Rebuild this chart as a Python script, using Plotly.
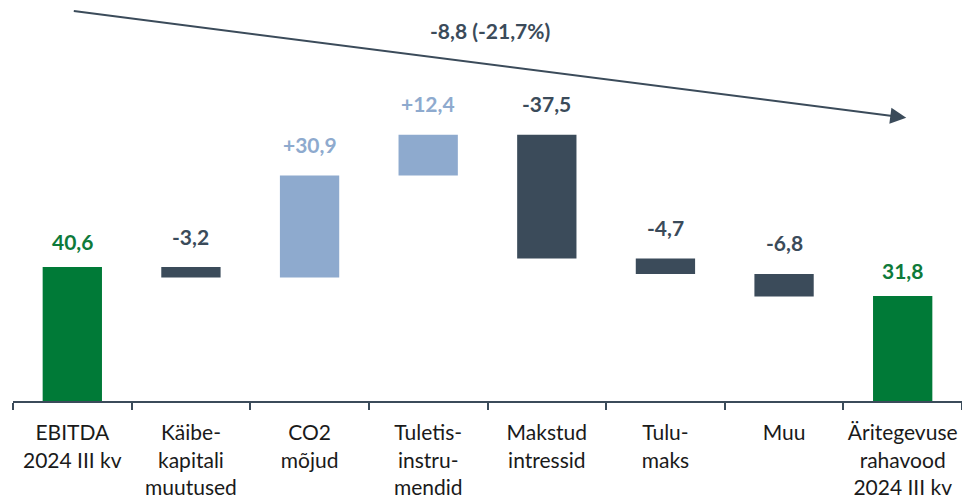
import plotly.graph_objects as go

# -------------------------
# DATA
# -------------------------
categories = [
    "EBITDA<br>2024 III kv",
    "Käibe-<br>kapitali<br>muutused",
    "CO2<br>mõjud",
    "Tuletis-<br>instru-<br>mendid",
    "Makstud<br>intressid",
    "Tulu-<br>maks",
    "Muu",
    "Äritegevuse<br>rahavood<br>2024 III kv",
]
values = [40.6, -3.2, 30.9, 12.4, -37.5, -4.7, -6.8, 31.8]
measures = ["total", "relative", "relative", "relative",
            "relative", "relative", "relative", "total"]

GREEN = "#007A37"
GREEN_TXT = "#0E7A3A"
DARK = "#3B4B5A"
LIGHT = "#8EAACE"
FONT = "Lato"

# -------------------------
# WATERFALL GEOMETRY
# -------------------------
bases, heights, colors, labels, label_colors, tops = [], [], [], [], [], []
running = 0.0
for v, m in zip(values, measures):
    if m == "total":
        base, h = 0.0, v
        running = v
        colors.append(GREEN)
        label_colors.append(GREEN_TXT)
        labels.append(f"{v:.1f}".replace(".", ","))
    else:
        start = running
        running = running + v
        base, h = min(start, running), abs(v)
        colors.append(LIGHT if v > 0 else DARK)
        label_colors.append(LIGHT if v > 0 else DARK)
        labels.append(f"{v:+.1f}".replace(".", ","))
    bases.append(base)
    heights.append(h)
    tops.append(base + h)

change = values[-1] - values[0]
change_pct = change / values[0] * 100
change_text = f"{change:.1f} ({change_pct:.1f}%)".replace(".", ",")

# -------------------------
# FIGURE
# -------------------------
fig = go.Figure()

fig.add_trace(
    go.Bar(
        x=categories,
        y=heights,
        base=bases,
        width=0.5,
        marker=dict(color=colors, line=dict(width=0)),
        hoverinfo="skip",
    )
)

# value labels above bars
for cat, top, lab, col, m in zip(categories, tops, labels, label_colors, measures):
    fig.add_annotation(
        x=cat, y=top, text=f"<b>{lab}</b>",
        showarrow=False, yanchor="middle",
        yshift=26 if m == "total" else 31,
        font=dict(family=FONT, size=21, color=col),
    )

# overall change arrow
fig.add_annotation(
    x=7.03, y=85.8, ax=0.0, ay=118.2,
    xref="x", yref="y", axref="x", ayref="y",
    text="", showarrow=True,
    arrowhead=2, arrowsize=1.6, arrowwidth=2, arrowcolor=DARK,
)
fig.add_annotation(
    x=3.52, y=112.2, xref="x", yref="y",
    text=f"<b>{change_text}</b>", showarrow=False,
    font=dict(family=FONT, size=21, color=DARK),
)

# -------------------------
# STYLE
# -------------------------
fig.update_layout(
    width=962, height=501,
    margin=dict(l=13, r=0, t=0, b=100),
    plot_bgcolor="white", paper_bgcolor="white",
    showlegend=False,
    font=dict(family=FONT, size=21, color="#1A1A1A"),
    xaxis=dict(
        type="category",
        range=[-0.5, 7.5],
        tickson="boundaries",
        tickangle=0, automargin=False,
        ticks="outside", ticklen=7, tickwidth=2, tickcolor=DARK,
        ticklabelstandoff=12,
        showline=True, linecolor=DARK, linewidth=2,
        showgrid=False, zeroline=False,
        tickfont=dict(family=FONT, size=21, color="#1A1A1A"),
    ),
    yaxis=dict(
        range=[0, 121.5],
        visible=False, showgrid=False, zeroline=False,
        automargin=False,
    ),
)

# page body margin would shift the 962x501 figure
fig.write_html(
    "out.html",
    config={"displayModeBar": False},
    post_script="document.body.style.margin='0';",
)
